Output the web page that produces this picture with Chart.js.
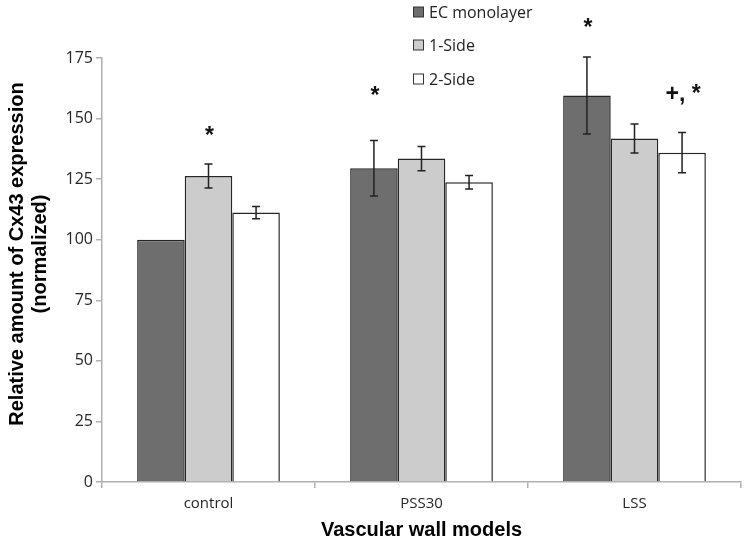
<!DOCTYPE html>
<html lang="en">
<head>
  <meta charset="UTF-8">
  <title>Cx43 expression</title>
  <script src="https://cdn.jsdelivr.net/npm/chart.js"></script>
  <style>
    html, body { margin: 0; padding: 0; background: #fff; }
    #wrap { width: 747px; height: 543px; }
  </style>
</head>
<body>
  <div id="wrap"><canvas id="myChart" width="747" height="543"></canvas></div>

  <script>
    // data
    const categories = ['control', 'PSS30', 'LSS'];
    const seriesNames = ['EC monolayer', '1-Side', '2-Side'];
    const ecMonolayer = [100, 129.5, 159.5];
    const oneSide = [126.3, 133.5, 141.8];
    const twoSide = [111.2, 123.7, 135.9];
    const ecErr = [0, 11.5, 15.9];
    const oneSideErr = [5, 5, 6];
    const twoSideErr = [2.5, 2.8, 8.3];
    const yTicks = [0, 25, 50, 75, 100, 125, 150, 175];

    // significance marks: which bar, label, and height (data units, baseline)
    const marks = [
      { series: 1, index: 0, text: '*', at: 140 },
      { series: 0, index: 1, text: '*', at: 156.4 },
      { series: 0, index: 2, text: '*', at: 184.5 },
      { series: 2, index: 2, text: '+, *', at: 157.2 }
    ];

    const colors = ['#6e6e6e', '#cccccc', '#ffffff'];
    const errors = [ecErr, oneSideErr, twoSideErr];

    const errorBars = {
      id: 'errorBars',
      afterDatasetsDraw(chart) {
        const ctx = chart.ctx;
        const y = chart.scales.y;
        ctx.save();
        ctx.strokeStyle = '#222';
        ctx.lineWidth = 1.5;
        chart.data.datasets.forEach((ds, i) => {
          chart.getDatasetMeta(i).data.forEach((bar, j) => {
            const e = errors[i][j];
            if (!e) return;
            const top = y.getPixelForValue(ds.data[j] + e);
            const bot = y.getPixelForValue(ds.data[j] - e);
            ctx.beginPath();
            ctx.moveTo(bar.x, top); ctx.lineTo(bar.x, bot);
            ctx.moveTo(bar.x - 4, top); ctx.lineTo(bar.x + 4, top);
            ctx.moveTo(bar.x - 4, bot); ctx.lineTo(bar.x + 4, bot);
            ctx.stroke();
          });
        });
        ctx.restore();
      }
    };

    const extras = {
      id: 'extras',
      afterDraw(chart) {
        const ctx = chart.ctx;
        const y = chart.scales.y;
        const area = chart.chartArea;
        ctx.save();

        // significance marks
        ctx.fillStyle = '#111';
        ctx.font = 'bold 23px "Liberation Sans", Arial, sans-serif';
        ctx.textAlign = 'center';
        ctx.textBaseline = 'alphabetic';
        marks.forEach(m => {
          const bar = chart.getDatasetMeta(m.series).data[m.index];
          ctx.fillText(m.text, bar.x + 1, y.getPixelForValue(m.at));
        });

        // legend
        ctx.font = '16px "Open Sans", sans-serif';
        ctx.textAlign = 'left';
        ctx.textBaseline = 'middle';
        const rows = [12, 45, 79];
        chart.data.datasets.forEach((ds, i) => {
          ctx.fillStyle = ds.backgroundColor;
          ctx.fillRect(413.5, rows[i] - 5, 10, 10);
          ctx.strokeStyle = '#333';
          ctx.lineWidth = 1;
          ctx.strokeRect(413.5, rows[i] - 5, 10, 10);
          ctx.fillStyle = '#222';
          ctx.fillText(ds.label, 429, rows[i] + 1);
        });

        // axis titles
        ctx.fillStyle = '#000';
        ctx.font = 'bold 20px "Liberation Sans", Arial, sans-serif';
        ctx.textAlign = 'center';
        ctx.textBaseline = 'middle';
        ctx.fillText('Vascular wall models', (area.left + area.right) / 2, 530);
        ctx.translate(0, 254);
        ctx.rotate(-Math.PI / 2);
        ctx.fillText('Relative amount of Cx43 expression', 0, 17);
        ctx.fillText('(normalized)', 0, 40);
        ctx.restore();
      }
    };

    const ctx = document.getElementById('myChart').getContext('2d');
    new Chart(ctx, {
      type: 'bar',
      data: {
        labels: categories,
        datasets: [ecMonolayer, oneSide, twoSide].map((vals, i) => ({
          label: seriesNames[i],
          data: vals,
          backgroundColor: colors[i],
          borderColor: '#262626',
          borderWidth: 1.5,
          barPercentage: 1,
          categoryPercentage: 0.67
        }))
      },
      options: {
        responsive: false,
        animation: false,
        layout: { padding: { top: 58, right: 6, left: 0, bottom: 0 } },
        plugins: {
          legend: { display: false },
          tooltip: { enabled: false }
        },
        scales: {
          x: {
            afterFit: s => { s.height = 61; },
            grid: { offset: true, drawOnChartArea: false, tickLength: 6, color: '#b0b0b0', lineWidth: 1.5 },
            border: { color: '#b0b0b0', width: 1.5 },
            ticks: { color: '#262626', font: { family: 'Open Sans', size: 15 }, padding: 7 }
          },
          y: {
            min: 0,
            max: 175,
            afterFit: s => { s.width = 102; },
            afterBuildTicks: s => { s.ticks = yTicks.map(v => ({ value: v })); },
            grid: { drawOnChartArea: false, tickLength: 6, color: '#b0b0b0', lineWidth: 1.5 },
            border: { color: '#b0b0b0', width: 1.5 },
            ticks: { color: '#262626', font: { family: 'Open Sans', size: 16 }, padding: 3 }
          }
        }
      },
      plugins: [errorBars, extras]
    });
  </script>
</body>
</html>
